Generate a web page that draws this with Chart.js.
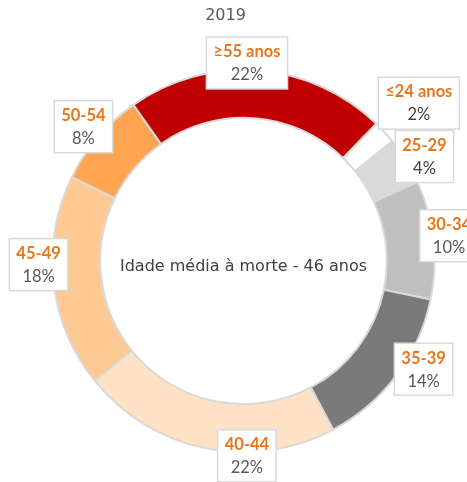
<!DOCTYPE html>
<html>
<head>
<meta charset="utf-8">
<script src="https://cdn.jsdelivr.net/npm/chart.js@4.4.1/dist/chart.umd.min.js"></script>
<style>
  html, body { margin: 0; padding: 0; background: #ffffff; }
  #wrap { width: 467px; height: 482px; position: relative; }
</style>
</head>
<body>
<div id="wrap"><canvas id="chart"></canvas></div>
<script>
// Age groups at death, 2019 (share of deaths, %)
const categories = ['≤24 anos', '25-29', '30-34', '35-39', '40-44', '45-49', '50-54', '≥55 anos'];
const shares = [2, 4, 10, 14, 22, 18, 8, 22];
const sliceColors = ['#FFFFFF', '#D9D9D9', '#BFBFBF', '#7A7A7A', '#FFE2C6', '#FFC993', '#FFA552', '#C00000'];
const chartTitle = '2019';
const centerText = 'Idade média à morte - 46 anos';

// Callout placement: direction (degrees clockwise from top) and distance as a multiple of the outer radius
const calloutAngles = [48, 60, 83, 121, 179, 269, 310, 1];
const calloutDistances = [1.235, 1.094, 1.084, 1.10, 1.02, 1.073, 1.094, 1.037];
const percentColors = ['#404040', '#404040', '#595959', '#595959', '#595959', '#595959', '#595959', '#595959'];

const calloutPlugin = {
  id: 'callouts',
  afterDraw(chart) {
    const ctx = chart.ctx;
    const arc = chart.getDatasetMeta(0).data[0];
    if (!arc) return;
    const cx = arc.x, cy = arc.y, R = arc.outerRadius;

    ctx.save();
    // title
    ctx.fillStyle = '#595959';
    ctx.font = '16px "DejaVu Sans", sans-serif';
    ctx.textAlign = 'center';
    ctx.textBaseline = 'middle';
    ctx.fillText(chartTitle, cx - 18, 16);

    // centre caption
    ctx.fillStyle = '#404040';
    ctx.font = '16px "DejaVu Sans", sans-serif';
    ctx.fillText(centerText, cx, cy + 6);

    // value callouts
    shares.forEach((v, i) => {
      const a = calloutAngles[i] * Math.PI / 180;
      const d = calloutDistances[i] * R;
      const x = cx + Math.sin(a) * d;
      const y = cy - Math.cos(a) * d;
      const name = categories[i];
      const pct = v + '%';
      ctx.font = 'bold 16.5px Lato, sans-serif';
      const w1 = ctx.measureText(name).width;
      ctx.font = '16.5px Lato, sans-serif';
      const w2 = ctx.measureText(pct).width;
      const w = Math.max(w1, w2) + 14;
      const h = 52;
      ctx.fillStyle = '#FFFFFF';
      ctx.fillRect(x - w / 2, y - h / 2, w, h);
      ctx.strokeStyle = '#D9D9D9';
      ctx.lineWidth = 1.5;
      ctx.strokeRect(x - w / 2, y - h / 2, w, h);
      ctx.textAlign = 'center';
      ctx.textBaseline = 'middle';
      ctx.fillStyle = '#E8761B';
      ctx.font = 'bold 16.5px Lato, sans-serif';
      ctx.fillText(name, x, y - 11);
      ctx.fillStyle = percentColors[i];
      ctx.font = '16.5px Lato, sans-serif';
      ctx.fillText(pct, x, y + 12);
    });
    ctx.restore();
  }
};

new Chart(document.getElementById('chart'), {
  type: 'doughnut',
  data: {
    labels: categories,
    datasets: [{
      data: shares,
      backgroundColor: sliceColors,
      borderColor: '#D9D9D9',
      borderWidth: 2
    }]
  },
  options: {
    responsive: true,
    maintainAspectRatio: false,
    animation: false,
    rotation: 44,
    cutout: '75%',
    layout: { padding: { left: 20, right: 0, top: 69, bottom: 29 } },
    plugins: {
      legend: { display: false },
      title: { display: false },
      tooltip: { enabled: false }
    }
  },
  plugins: [calloutPlugin]
});
</script>
</body>
</html>
